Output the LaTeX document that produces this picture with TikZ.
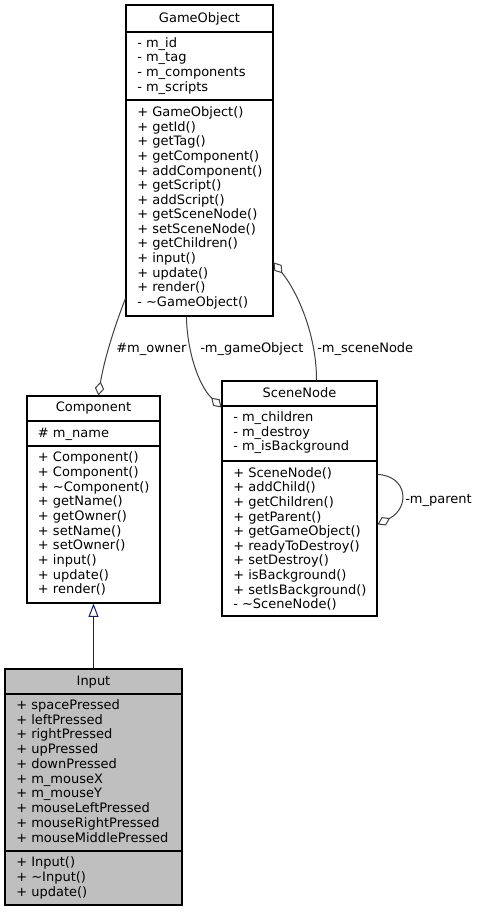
\documentclass[tikz,border=0pt]{standalone}
\usepackage{fontspec}
\setmainfont{DejaVu Sans}
\usetikzlibrary{arrows.meta,calc,fit}
\definecolor{edgegray}{HTML}{404040}
\definecolor{inhblue}{HTML}{191970}
\definecolor{inputfill}{HTML}{BFBFBF}
\begin{document}
\begin{tikzpicture}[x=0.75pt,y=-0.75pt,
  umlbox/.style={draw=black, line width=0.85pt, inner sep=0pt},
  divider/.style={draw=black, line width=0.85pt},
  txt/.style={anchor=base west, inner sep=0pt, font=\fontsize{9.75}{11}\selectfont},
  ttl/.style={anchor=base, inner sep=0pt, font=\fontsize{9.75}{11}\selectfont},
  lbl/.style={anchor=base west, inner sep=0pt, font=\fontsize{9.75}{11}\selectfont},
  assoc/.style={draw=edgegray, line width=0.75pt, -{Diamond[fill=white, length=10.5pt, width=7pt]}},
  inh/.style={draw=inhblue, line width=0.75pt, -{Triangle[fill=white, length=10pt, width=7.5pt]}}]
\useasboundingbox[fill=white] (0,0) rectangle (479,912);

% ---------- GameObject ----------
\coordinate (go1) at (126,5); \coordinate (go2) at (273,316);
\node[umlbox, fit=(go1)(go2)] (go) {};
\draw[divider] (go.west |- 0,32) -- (go.east |- 0,32);
\draw[divider] (go.west |- 0,100) -- (go.east |- 0,100);
\node[ttl] (gotitle) at (199.5,23) {GameObject};
\foreach \t [count=\i from 0] in {- m\_id, - m\_tag, - m\_components, - m\_scripts}
  \node[txt] (goa\i) at (137,47.3+14.7*\i) {\t};
\foreach \t [count=\i from 0] in {+ GameObject(), + getId(), + getTag(), + getComponent(), + addComponent(), + getScript(), + addScript(), + getSceneNode(), + setSceneNode(), + getChildren(), + input(), + update(), + render(), - \textasciitilde GameObject()}
  \node[txt] (gom\i) at (137,116.8+14.57*\i) {\t};

% ---------- Component ----------
\coordinate (co1) at (27,396); \coordinate (co2) at (160,603);
\node[umlbox, fit=(co1)(co2)] (comp) {};
\draw[divider] (comp.west |- 0,421) -- (comp.east |- 0,421);
\draw[divider] (comp.west |- 0,446) -- (comp.east |- 0,446);
\node[ttl] (cotitle) at (93.5,411.5) {Component};
\node[txt] (coa0) at (37.7,437.3) {\# m\_name};
\foreach \t [count=\i from 0] in {+ Component(), + Component(), + \textasciitilde Component(), + getName(), + getOwner(), + setName(), + setOwner(), + input(), + update(), + render()}
  \node[txt] (com\i) at (37.7,461.8+14.67*\i) {\t};

% ---------- SceneNode ----------
\coordinate (sn1) at (222,381); \coordinate (sn2) at (377,616);
\node[umlbox, fit=(sn1)(sn2)] (sn) {};
\draw[divider] (sn.west |- 0,406) -- (sn.east |- 0,406);
\draw[divider] (sn.west |- 0,461) -- (sn.east |- 0,461);
\node[ttl] (sntitle) at (299.5,397.3) {SceneNode};
\foreach \t [count=\i from 0] in {- m\_children, - m\_destroy, - m\_isBackground}
  \node[txt] (sna\i) at (233,421.8+14.35*\i) {\t};
\foreach \t [count=\i from 0] in {+ SceneNode(), + addChild(), + getChildren(), + getParent(), + getGameObject(), + readyToDestroy(), + setDestroy(), + isBackground(), + setIsBackground(), - \textasciitilde SceneNode()}
  \node[txt] (snm\i) at (233,477.2+14.6*\i) {\t};

% ---------- Input ----------
\coordinate (in1) at (5,669); \coordinate (in2) at (182,905);
\node[umlbox, fill=inputfill, fit=(in1)(in2)] (inp) {};
\draw[divider] (inp.west |- 0,694) -- (inp.east |- 0,694);
\draw[divider] (inp.west |- 0,851) -- (inp.east |- 0,851);
\node[ttl] (intitle) at (93.5,685.5) {Input};
\foreach \t [count=\i from 0] in {+ spacePressed, + leftPressed, + rightPressed, + upPressed, + downPressed, + m\_mouseX, + m\_mouseY, + mouseLeftPressed, + mouseRightPressed, + mouseMiddlePressed}
  \node[txt] (ina\i) at (16,709.5+14.74*\i) {\t};
\foreach \t [count=\i from 0] in {+ Input(), + \textasciitilde Input(), + update()}
  \node[txt] (inm\i) at (16,866.8+14.9*\i) {\t};

% ---------- connectors ----------
\draw[inh] (inp.north) -- (comp.south);

\draw[assoc] ($(go.south west)+(0,-18)$) .. controls (115,325) and (104,360) .. ($(comp.north west)+(72,0)$);
\node[lbl] (lowner) at (116,352.5) {\#m\_owner};

\draw[assoc] ($(go.south west)+(61,0)$) .. controls (187,350) and (198,385) .. ($(sn.north west)+(0,27)$);
\node[lbl] (lgame) at (200,352.5) {-m\_gameObject};

\draw[assoc] ($(sn.north west)+(95,0)$) .. controls (317,340) and (300,295) .. ($(go.north east)+(0,258)$);
\node[lbl] (lscene) at (317,352.5) {-m\_sceneNode};

\draw[assoc] ($(sn.north east)+(0,94)$) .. controls (408,476) and (410,508) .. ($(sn.north east)+(0,144)$);
\node[lbl] (lparent) at (405,503.5) {-m\_parent};
\end{tikzpicture}
\end{document}
